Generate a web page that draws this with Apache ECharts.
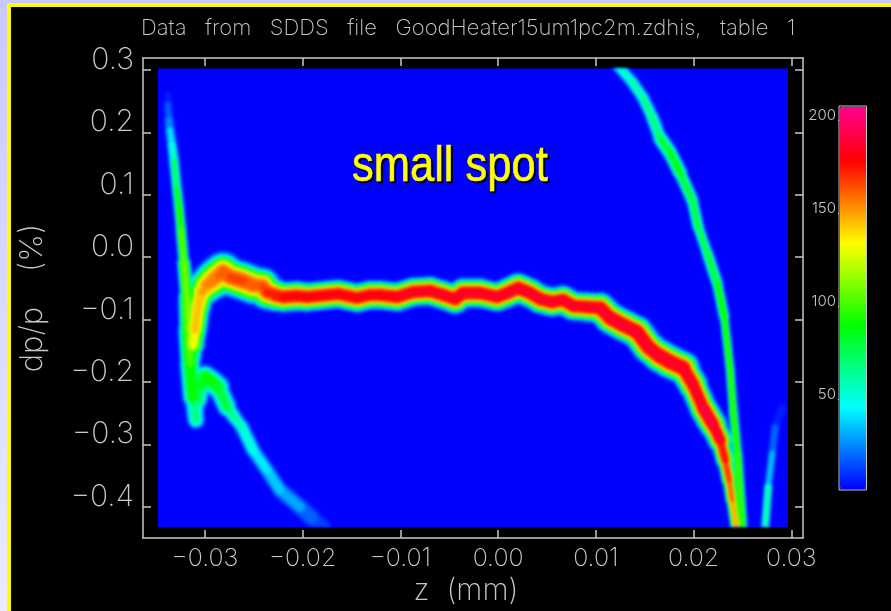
<!DOCTYPE html>
<html>
<head>
<meta charset="utf-8">
<title>small spot</title>
<style>
  html, body { margin: 0; height: 100%; overflow: hidden; background: linear-gradient(#c8c8ff, #ecebff); }
  #frame { position: absolute; left: 7px; top: 3px; width: 900px; height: 604px; background: #000; border: 4px solid #ffff00; }
  #main { position: absolute; left: 0; top: 0; width: 891px; height: 611px; }
</style>
<script src="https://cdn.jsdelivr.net/npm/echarts@6/dist/echarts.min.js"></script>
</head>
<body>
<div id="frame"></div>
<div id="main"></div>
<script>
const 标题 = "Data   from   SDDS   file   GoodHeater15um1pc2m.zdhis,   table   1";
const zTicks = [-0.03, -0.02, -0.01, 0, 0.01, 0.02, 0.03];
const dpTicks = [0.3, 0.2, 0.1, 0, -0.1, -0.2, -0.3, -0.4];
const barTicks = [50, 100, 150, 200];
const 色表 = ["#0000ff", "#0055ff", "#00aaff", "#00ffff", "#00ffaa", "#00ff55", "#00ff00", "#55ff00",
  "#aaff00", "#ffff00", "#ffaa00", "#ff5500", "#ff0000", "#ff0048", "#ff0090"];

// 主峰
const mainZ = [-.03143, -.03123, -.03102, -.03072, -.03031, -.0298, -.02918, -.02867, -.02816, -.02744, -.02673, -.02611,
  -.02509, -.02417, -.02366, -.02284, -.02202, -.02059, -.01957, -.01855, -.01752, -.0164, -.01538, -.01446, -.01313,
  -.0121, -.01036, -.00873, -.00699, -.00566, -.00443, -.00361, -.00188, -.00014, .00089, .00201, .00324, .00426, .00549,
  .00661, .00764, .00907, .0104, .01142, .01275, .01418, .01531, .01633, .01756, .01889, .01991, .02093, .02195, .02267,
  .02318, .02359, .0239, .02431];
const mainDp = [-.1651, -.141, -.117, -.0801, -.0561, -.0449, -.0369, -.0304, -.024, -.0321, -.0353, -.0385,
  -.0449, -.0465, -.0561, -.0609, -.0641, -.0625, -.0641, -.0625, -.0609, -.0593, -.0625, -.0657, -.0609,
  -.0609, -.0641, -.0561, -.0545, -.0609, -.0673, -.0577, -.0577, -.0641, -.0577, -.0497, -.0577, -.0673, -.0721,
  -.0689, -.0785, -.0801, -.0817, -.0978, -.109, -.1202, -.1442, -.1571, -.1683, -.1779, -.2051, -.242, -.2692, -.2933,
  -.3253, -.3574, -.3894, -.4327];
const mainPeak = [60, 120, 150, 148, 150, 155, 160, 160, 165, 168, 170, 168,
  165, 165, 172, 178, 182, 184, 184, 185, 185, 184, 184, 184, 184,
  185, 187, 187, 187, 187, 188, 188, 188, 188, 188, 188, 189, 190, 189,
  188, 188, 188, 188, 192, 192, 192, 192, 190, 192, 190, 188, 192, 195, 185,
  175, 170, 158, 148];
const mainSpread = [.012, .013, .014, .014, .016, .0192, .0224, .0224, .0224, .0208, .0208, .0224,
  .0208, .0208, .0192, .0176, .0168, .0168, .016, .016, .016, .016, .016, .016, .016,
  .016, .016, .016, .016, .016, .016, .0168, .016, .016, .016, .0168, .016, .016, .016,
  .016, .016, .016, .0168, .0176, .0176, .0176, .0176, .0176, .0192, .0176, .0152, .0152, .016, .012,
  .0096, .008, .0072, .0064];

// 左侧竖支
const leftZ = [-.03378, -.03378, -.03368, -.03358, -.03337, -.03317, -.03286, -.03266, -.03245, -.03215, -.03184, -.03174, -.03153, -.03123, -.03092];
const leftDp = [.2596, .2436, .2196, .2035, .1795, .1554, .1074, .0801, .0433, -.0096, -.0641, -.117, -.1699, -.2244, -.2612];
const leftPeak = [4, 12, 25, 35, 50, 65, 85, 95, 105, 112, 115, 110, 100, 90, 45];
const leftSpread = [.0068, .0068, .0068, .0068, .0068, .0068, .0064, .0064, .0064, .0068, .01, .011, .0128, .0128, .0096];

// 左下尾部
const tailZ = [-.03092, -.03072, -.03041, -.03, -.02928, -.02867, -.02775, -.02693, -.02622, -.02509, -.02366, -.02233, -.02028, -.01906, -.01793];
const tailDp = [-.2612, -.2292, -.2051, -.1923, -.2003, -.2083, -.2404, -.258, -.2724, -.3093, -.3413, -.3734, -.4006, -.4183, -.4327];
const tailPeak = [45, 70, 85, 95, 90, 88, 72, 62, 60, 50, 45, 38, 28, 20, 12];
const tailSpread = [.008, .011, .013, .014, .015, .014, .0105, .0088, .0096, .0096, .0096, .0104, .012, .0128, .0128];

// 右上支
const rightZ = [.01224, .01367, .01479, .01571, .01653, .01756, .01858, .01981, .02042, .02134, .02236, .02308, .02369, .024, .02441, .02492];
const rightDp = [.3061, .2804, .2548, .2244, .1907, .1667, .1346, .0913, .0481, .0064, -.0417, -.0962, -.1811, -.2452, -.3141, -.4327];
const rightPeak = [55, 60, 65, 70, 72, 92, 85, 82, 80, 78, 88, 95, 100, 100, 100, 105];
const rightSpread = [.008, .008, .008, .008, .009, .01, .008, .008, .007, .007, .008, .0056, .0056, .0056, .0064, .0064];

// 右下小支
const lastZ = [.02727, .02758, .02799, .02829, .02901];
const lastDp = [-.4327, -.3686, -.3141, -.2724, -.242];
const lastPeak = [85, 45, 28, 14, 6];
const lastSpread = [.0056, .0056, .0056, .0072, .0072];

const 支列表 = [
  [mainZ, mainDp, mainPeak, mainSpread],
  [leftZ, leftDp, leftPeak, leftSpread],
  [tailZ, tailDp, tailPeak, tailSpread],
  [rightZ, rightDp, rightPeak, rightSpread],
  [lastZ, lastDp, lastPeak, lastSpread],
];

const 色标下限 = 1;
const 色标上限 = 207.5;
const 等级组 = [];
for (let l = 6; l < 207; l += 6) 等级组.push(l);

function 带宽(peak, spreadPx, level) {
  if (peak <= level) return 0;
  return 1.12 * spreadPx * Math.pow(Math.log(peak / level), 0.3);
}

function 画支(params, api) {
  const i = params.dataIndexInside;
  const p0 = api.coord([api.value(0), api.value(1)]);
  if (i + 1 >= params.dataInsideLength) return;
  const p1 = api.coord([api.value(0, i + 1), api.value(1, i + 1)]);
  const peak = (api.value(2) + api.value(2, i + 1)) / 2;
  const spread = (api.value(3) + api.value(3, i + 1)) / 2;
  const spreadPx = api.size([0, spread])[1];
  const children = [];
  等级组.forEach((level) => {
    const hw = 带宽(peak, spreadPx, level);
    if (hw <= 0) return;
    children.push({
      type: "polyline",
      silent: true,
      z2: level,
      shape: { points: [p0, p1] },
      style: {
        fill: null,
        stroke: echarts.color.lerp((level - 色标下限) / (色标上限 - 色标下限), 色表),
        lineWidth: hw * 2,
        lineCap: "round",
      },
    });
  });
  return { type: "group", children };
}

const 白 = "#c8c8c8";
const 细体 = "Inter";
const 刻度文字 = (v, d) => (v < 0 ? "\u2212" : "") + Math.abs(v).toFixed(d);
const 框线 = { lineStyle: { color: 白, width: 1.5 }, onZero: false };

const myChart = echarts.init(document.getElementById("main"), null, { renderer: "canvas" });

const option = {
  animation: false,
  backgroundColor: "transparent",
  title: {
    text: 标题,
    left: 141,
    top: 17,
    padding: 0,
    textStyle: { color: 白, fontFamily: 细体, fontWeight: 200, fontSize: 22 },
  },
  grid: [
    { left: 143, top: 58, width: 660, height: 480, outerBoundsMode: "none" },
    { left: 158, top: 68.5, width: 630, height: 458.5, show: true, backgroundColor: "#0000ff", borderWidth: 0, outerBoundsMode: "none" },
    { left: 839, top: 106, width: 27.5, height: 384, show: true, backgroundColor: "transparent", borderColor: 白, borderWidth: 1, outerBoundsMode: "none" },
  ],
  xAxis: [
    {
      type: "value", gridIndex: 0, position: "bottom", min: -0.03634, max: 0.0312,
      name: "z  (mm)", nameLocation: "middle", nameGap: 38,
      nameTextStyle: { color: 白, fontFamily: 细体, fontWeight: 200, fontSize: 30, padding: [0, 14, 0, 0] },
      axisLine: 框线,
      axisTick: { inside: true, length: 8, customValues: zTicks, lineStyle: { color: 白, width: 1.5 } },
      axisLabel: {
        customValues: zTicks, margin: 8, color: 白, fontFamily: 细体, fontWeight: 200, fontSize: 25,
        formatter: (v) => 刻度文字(v, 2),
      },
      splitLine: { show: false },
    },
    {
      type: "value", gridIndex: 0, position: "top", min: -0.03634, max: 0.0312,
      axisLine: 框线,
      axisTick: { inside: true, length: 8, customValues: zTicks, lineStyle: { color: 白, width: 1.5 } },
      axisLabel: { show: false },
      splitLine: { show: false },
    },
    { type: "value", gridIndex: 1, min: -0.0348, max: 0.0296, show: false },
    { type: "value", gridIndex: 2, min: 0, max: 1, show: false },
  ],
  yAxis: [
    {
      type: "value", gridIndex: 0, position: "left", min: -0.45, max: 0.319,
      name: "dp/p    (%)", nameLocation: "middle", nameGap: 95, nameRotate: 90,
      nameTextStyle: { color: 白, fontFamily: 细体, fontWeight: 200, fontSize: 31 },
      axisLine: 框线,
      axisTick: { inside: true, length: 8, customValues: dpTicks, lineStyle: { color: 白, width: 1.5 } },
      axisLabel: {
        customValues: dpTicks, margin: 9, color: 白, fontFamily: 细体, fontWeight: 200, fontSize: 30,
        verticalAlign: "bottom", lineHeight: 20,
        formatter: (v) => 刻度文字(v, 1),
      },
      splitLine: { show: false },
    },
    {
      type: "value", gridIndex: 0, position: "right", min: -0.45, max: 0.319,
      axisLine: 框线,
      axisTick: { inside: true, length: 8, customValues: dpTicks, lineStyle: { color: 白, width: 1.5 } },
      axisLabel: { show: false },
      splitLine: { show: false },
    },
    { type: "value", gridIndex: 1, min: -0.4327, max: 0.302, show: false },
    {
      type: "value", gridIndex: 2, position: "left", min: 色标下限, max: 色标上限,
      axisLine: { show: false },
      axisTick: { inside: false, length: 1, customValues: barTicks, lineStyle: { color: 白 } },
      axisLabel: {
        customValues: barTicks, margin: 3, color: 白, fontFamily: 细体, fontWeight: 300, fontSize: 15,
        verticalAlign: "bottom", lineHeight: 9,
      },
      splitLine: { show: false },
    },
  ],
  visualMap: {
    type: "continuous",
    seriesIndex: 0,
    dimension: 2,
    min: 色标下限,
    max: 色标上限,
    left: 840,
    top: 107,
    itemWidth: 26,
    itemHeight: 382,
    padding: 0,
    text: null,
    calculable: false,
    hoverLink: false,
    inRange: { color: 色表 },
  },
  series: 支列表.map(([zs, dps, peaks, spreads]) => ({
    type: "custom",
    xAxisIndex: 2,
    yAxisIndex: 2,
    zlevel: 1,
    clip: true,
    silent: true,
    encode: { x: 0, y: 1 },
    renderItem: 画支,
    data: zs.map((z, i) => [z, dps[i], peaks[i], spreads[i]]),
  })),
  graphic: [
    {
      type: "text", zlevel: 2, z: 99, x: 354, y: 144, scaleX: 0.87,
      style: { text: "small spot", fill: "#000", font: "50px 'Liberation Sans'", stroke: "#000", lineWidth: 0.6 },
    },
    {
      type: "text", zlevel: 2, z: 100, x: 352, y: 142, scaleX: 0.87,
      style: { text: "small spot", fill: "#ffff00", font: "50px 'Liberation Sans'", stroke: "#ffff00", lineWidth: 0.6 },
    },
  ],
};

myChart.setOption(option);

// 带子层单独虚化，和原图的平滑过渡接近
const 画布组 = document.querySelectorAll("#main canvas");
if (画布组.length > 1) 画布组[1].style.filter = "blur(1.5px)";
</script>
</body>
</html>
